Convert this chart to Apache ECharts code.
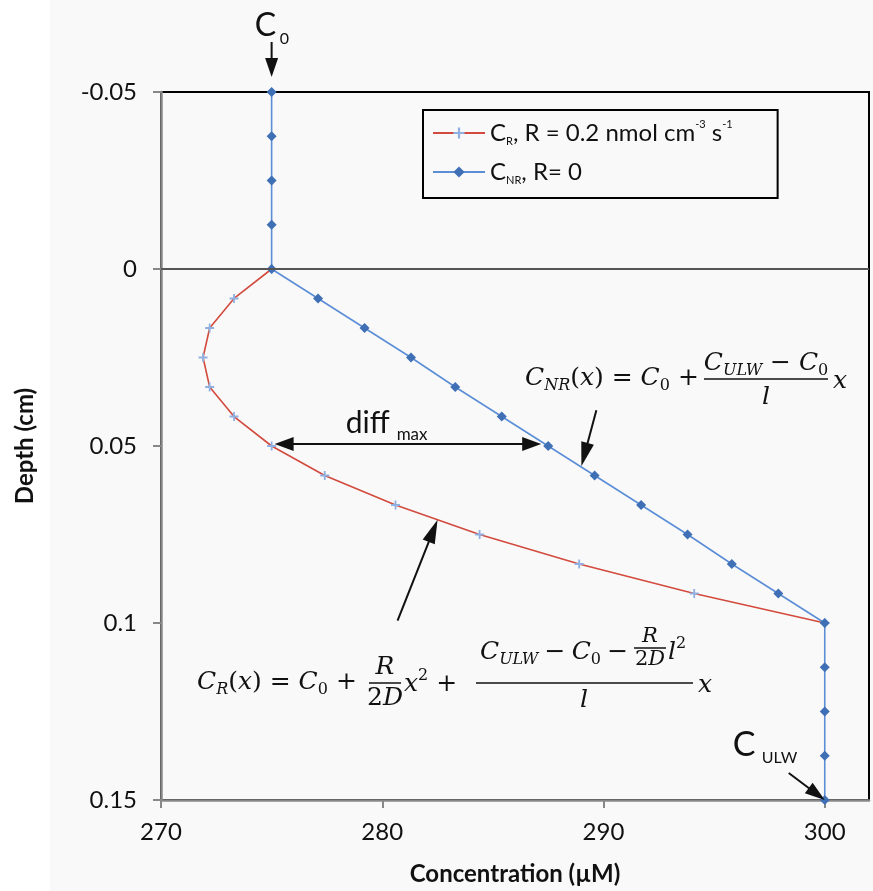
<!DOCTYPE html>
<html>
<head>
<meta charset="utf-8">
<script src="https://cdn.jsdelivr.net/npm/echarts@6/dist/echarts.min.js"></script>
<style>
html,body{margin:0;padding:0;background:#fff;}
#main{width:873px;height:891px;}
</style>
</head>
<body>
<div id="main"></div>
<script>
// depth (cm) and concentration (uM)
var depthNR = [-0.05, -0.0375, -0.025, -0.0125, 0, 0.00833, 0.01667, 0.025, 0.03333, 0.04167, 0.05,
               0.05833, 0.06667, 0.075, 0.08333, 0.09167, 0.1, 0.1125, 0.125, 0.1375, 0.15];
var concNR  = [275, 275, 275, 275, 275, 277.1, 279.2, 281.3, 283.3, 285.4, 287.5,
               289.6, 291.7, 293.8, 295.8, 297.9, 300, 300, 300, 300, 300];
var depthR  = [0, 0.00833, 0.01667, 0.025, 0.03333, 0.04167, 0.05, 0.05833, 0.06667, 0.075, 0.08333, 0.09167, 0.1];
var concR   = [275, 273.3, 272.2, 271.9, 272.2, 273.3, 275, 277.4, 280.6, 284.4, 288.9, 294.1, 300];
var xTicks  = [270, 280, 290, 300];

var SANS = 'Lato';
var MF = '"DejaVu Serif"';
var INK = '#111';

function pairs(xs, ys) {
    var out = [];
    for (var i = 0; i < xs.length; i++) out.push([xs[i], ys[i]]);
    return out;
}

var chart = echarts.init(document.getElementById('main'));

var option = {
    animation: false,
    backgroundColor: '#f9f9f9',
    grid: {
        left: 161, right: 4, top: 92, bottom: 91,
        show: true, borderColor: '#000', borderWidth: 2, backgroundColor: 'transparent'
    },
    legend: {
        orient: 'vertical',
        left: 423, top: 110,
        padding: [9, 45, 12, 9],
        borderColor: '#000', borderWidth: 2,
        itemWidth: 52, itemHeight: 14, itemGap: 13,
        data: ['C_R', 'C_NR'],
        formatter: function (name) {
            if (name === 'C_R') return '{b|C}{s|R}{b|, R = 0.2 nmol cm}{p|-3}{b| s}{p|-1}';
            return '{b|C}{s|NR}{b|, R= 0}';
        },
        textStyle: {
            fontFamily: SANS, fontSize: 24, color: INK,
            rich: {
                b: {fontFamily: SANS, fontSize: 24, lineHeight: 28, color: INK},
                s: {fontFamily: SANS, fontSize: 11, lineHeight: 10, verticalAlign: 'bottom', color: INK},
                p: {fontFamily: SANS, fontSize: 11, lineHeight: 8, verticalAlign: 'top', color: INK}
            }
        }
    },
    xAxis: {
        type: 'value', min: 270, max: 302, interval: 10,
        name: 'Concentration (µM)', nameLocation: 'middle', nameGap: 62,
        nameTextStyle: {fontFamily: SANS, fontSize: 24, fontWeight: 'bold', color: INK},
        axisLine: {onZero: false, lineStyle: {color: '#888', width: 2.5}},
        axisTick: {show: true, length: 8, customValues: xTicks, lineStyle: {color: '#888', width: 2}},
        axisLabel: {customValues: xTicks, margin: 20, fontFamily: SANS, fontSize: 24, color: INK},
        splitLine: {show: false}
    },
    yAxis: {
        type: 'value', inverse: true, min: -0.05, max: 0.15, interval: 0.05,
        name: 'Depth (cm)', nameLocation: 'middle', nameGap: 124, nameRotate: 90,
        nameTextStyle: {fontFamily: SANS, fontSize: 24, fontWeight: 'bold', color: INK},
        axisLine: {onZero: false, lineStyle: {color: '#888', width: 2.5}},
        axisTick: {show: true, length: 8, lineStyle: {color: '#888', width: 2}},
        axisLabel: {margin: 24, fontFamily: SANS, fontSize: 24, color: INK},
        splitLine: {show: false}
    },
    series: [{
        name: 'C_R',
        type: 'line',
        data: pairs(concR, depthR),
        symbol: 'path://M4,0h2v4h4v2h-4v4h-2v-4h-4v-2h4z',
        symbolSize: 9,
        showAllSymbol: true,
        lineStyle: {color: '#d24b3e', width: 1.6},
        itemStyle: {color: '#8fb0e0'},
        z: 3
    }, {
        name: 'C_NR',
        type: 'line',
        data: pairs(concNR, depthNR),
        symbol: 'diamond',
        symbolSize: 10,
        showAllSymbol: true,
        lineStyle: {color: '#5b8ed6', width: 1.6},
        itemStyle: {color: '#3f6fb4'},
        markLine: {
            silent: true, symbol: ['none', 'none'],
            label: {show: false},
            lineStyle: {color: '#555', width: 2, type: 'solid'},
            data: [{yAxis: 0}]
        },
        z: 4
    }]
};
chart.setOption(option);

function P(c) { return chart.convertToPixel({gridIndex: 0}, c); }

function head(x1, y1, x2, y2, len, w) {
    var dx = x2 - x1, dy = y2 - y1, d = Math.sqrt(dx * dx + dy * dy);
    var ux = dx / d, uy = dy / d;
    var bx = x2 - ux * len, by = y2 - uy * len;
    var px = -uy * w / 2, py = ux * w / 2;
    return {type: 'polygon', z: 50, shape: {points: [[x2, y2], [bx + px, by + py], [bx - px, by - py]]}, style: {fill: INK}};
}
function arrow(x1, y1, x2, y2, len, w) {
    var dx = x2 - x1, dy = y2 - y1, d = Math.sqrt(dx * dx + dy * dy);
    return [
        {type: 'line', z: 50, shape: {x1: x1, y1: y1, x2: x2 - dx / d * (len - 2), y2: y2 - dy / d * (len - 2)}, style: {stroke: INK, lineWidth: 2}},
        head(x1, y1, x2, y2, len, w)
    ];
}
function dblArrow(x1, y, x2, len, w) {
    return [
        {type: 'line', z: 50, shape: {x1: x1 + len - 2, y1: y, x2: x2 - len + 2, y2: y}, style: {stroke: INK, lineWidth: 2}},
        head(x2, y, x1, y, len, w),
        head(x1, y, x2, y, len, w)
    ];
}
function txt(x, y, text, st) {
    var s = {text: text, fill: INK, align: 'left', textAlign: 'left', verticalAlign: 'middle', textVerticalAlign: 'middle'};
    for (var k in st) s[k] = st[k];
    return {type: 'text', z: 50, x: x, y: y, style: s};
}
function center(x, y, text, st) {
    st = st || {};
    st.align = 'center'; st.textAlign = 'center';
    return txt(x, y, text, st);
}
function bar(x1, x2, y) {
    return {type: 'line', z: 50, shape: {x1: x1, y1: y, x2: x2, y2: y}, style: {stroke: INK, lineWidth: 1.5}};
}

var mathRich = {
    i:  {fontFamily: MF, fontStyle: 'italic', fontSize: 25, lineHeight: 32, fill: INK},
    n:  {fontFamily: MF, fontSize: 25, lineHeight: 32, fill: INK},
    si: {fontFamily: MF, fontStyle: 'italic', fontSize: 16, lineHeight: 15, verticalAlign: 'bottom', fill: INK},
    sn: {fontFamily: MF, fontSize: 16, lineHeight: 15, verticalAlign: 'bottom', fill: INK},
    sp: {fontFamily: MF, fontSize: 16, lineHeight: 13, verticalAlign: 'top', fill: INK},
    i2: {fontFamily: MF, fontStyle: 'italic', fontSize: 21, lineHeight: 24, fill: INK},
    n2: {fontFamily: MF, fontSize: 21, lineHeight: 24, fill: INK}
};
function m(x, y, text, al) {
    var st = {rich: mathRich, font: 'italic 25px ' + MF};
    return al === 'c' ? center(x, y, text, st) : txt(x, y, text, st);
}

var g = [];
g.push({type: 'rect', z: -10, shape: {x: 0, y: 0, width: 50, height: 891}, style: {fill: '#fff'}});

// C0 label and arrow
var c0 = P([275, -0.05]);
g.push(txt(c0[0] - 17, c0[1] - 66, 'C', {font: '32px ' + SANS}));
g.push(txt(c0[0] + 8, c0[1] - 53, '0', {font: '16px ' + SANS}));
g = g.concat(arrow(c0[0], c0[1] - 50, c0[0], c0[1] - 15, 19, 13));

// C_ULW label and arrow
var cu = P([300, 0.15]);
g.push(txt(cu[0] - 92, cu[1] - 55, 'C', {font: '34px ' + SANS}));
g.push(txt(cu[0] - 63, cu[1] - 42, 'ULW', {font: '16px ' + SANS}));
g = g.concat(arrow(cu[0] - 36, cu[1] - 27, cu[0], cu[1], 20, 13));

// diff_max
var dl = P([275, 0.05]), dr = P([287.5, 0.05]);
g = g.concat(dblArrow(dl[0] + 3, dl[1] - 2, dr[0] - 7, 19, 14));
g.push(txt(dl[0] + 74, dl[1] - 23, 'diff', {font: '30px ' + SANS}));
g.push(txt(dl[0] + 125, dl[1] - 11, 'max', {font: '17px ' + SANS}));

// C_NR equation
g.push(m(525, 378, '{i|C}{si|NR}{n|(}{i|x}{n|) = }{i|C}{sn|0}{n| +}'));
g.push(m(766, 363, '{i|C}{si|ULW}{n| − }{i|C}{sn|0}', 'c'));
g.push(bar(704, 828, 379));
g.push(m(766, 397, '{i|l}', 'c'));
g.push(m(833, 381, '{i|x}'));
var tNR = P([289.0, 0.0557]);
g = g.concat(arrow(tNR[0] + 15, tNR[1] - 56, tNR[0], tNR[1], 24, 13));

// C_R equation
g.push(m(197, 682, '{i|C}{si|R}{n|(}{i|x}{n|) = }{i|C}{sn|0}{n| +}'));
g.push(m(385, 667, '{i|R}', 'c'));
g.push(bar(369, 401, 683));
g.push(m(385, 698, '{n|2}{i|D}', 'c'));
g.push(m(404, 684, '{i|x}{sp|2}{n| +}'));
g.push(m(480, 652, '{i|C}{si|ULW}{n|\u2005−\u2005}{i|C}{sn|0}{n|\u2005−}'));
g.push(m(650, 637, '{i2|R}', 'c'));
g.push(bar(634, 666, 648));
g.push(m(650, 660, '{n2|2}{i2|D}', 'c'));
g.push(m(668, 652, '{i|l}{sp|2}'));
g.push(bar(476, 693, 683));
g.push(m(584, 700, '{i|l}', 'c'));
g.push(m(698, 685, '{i|x}'));
var tR = P([282.5, 0.0708]);
g = g.concat(arrow(tR[0] - 40, tR[1] + 101, tR[0], tR[1], 24, 13));

chart.setOption({graphic: {elements: g}});
</script>
</body>
</html>
